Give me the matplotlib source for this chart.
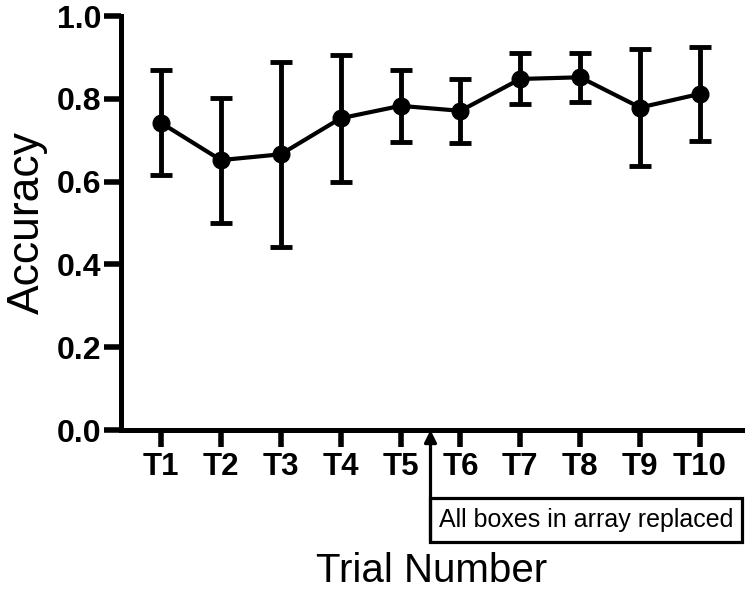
import matplotlib.pyplot as plt
from matplotlib.patches import Rectangle

trials = ["T1", "T2", "T3", "T4", "T5", "T6", "T7", "T8", "T9", "T10"]
accuracy = [0.742, 0.652, 0.666, 0.753, 0.783, 0.771, 0.848, 0.852, 0.779, 0.812]
err_upper = [0.870, 0.801, 0.890, 0.907, 0.870, 0.847, 0.910, 0.911, 0.920, 0.924]
err_lower = [0.616, 0.501, 0.441, 0.600, 0.696, 0.693, 0.787, 0.792, 0.638, 0.699]
change_at = 4.5
change_label = "All boxes in array replaced"

plt.rcParams['font.family'] = ['Liberation Sans', 'DejaVu Sans']

x = list(range(len(trials)))
yerr = [[a - lo for a, lo in zip(accuracy, err_lower)],
        [hi - a for a, hi in zip(accuracy, err_upper)]]

fig = plt.figure(figsize=(7.46, 6), dpi=100)
ax = fig.add_axes([0.1618, 0.2833, 0.8324, 0.69])

ax.errorbar(x, accuracy, yerr=yerr, color='black', marker='o', markersize=12,
            lw=3, elinewidth=3.5, capsize=8, capthick=3.5, zorder=3)

ax.set_xlim(-0.673, 9.696)
ax.set_ylim(0, 1.0)
ax.set_xticks(x)
ax.set_xticklabels(trials, fontsize=22.5, fontweight='bold')
ax.set_yticks([0.0, 0.2, 0.4, 0.6, 0.8, 1.0])
ax.set_yticklabels(["0.0", "0.2", "0.4", "0.6", "0.8", "1.0"], fontsize=23, fontweight='bold')

for side in ['top', 'right']:
    ax.spines[side].set_visible(False)
for side in ['left', 'bottom']:
    ax.spines[side].set_linewidth(3.6)
ax.tick_params(axis='both', direction='out', length=12, width=4)
ax.tick_params(axis='x', pad=4)
ax.tick_params(axis='y', pad=2)

ax.set_ylabel("Accuracy", fontsize=32, labelpad=6)
ax.set_xlabel("Trial Number", fontsize=29, labelpad=50)

# annotation box + arrow below the axis
trans = ax.get_xaxis_transform()
box_top, box_bot = -0.164, -0.270
rect = Rectangle((change_at, box_bot), ax.get_xlim()[1] - change_at, box_top - box_bot,
                 transform=trans, fill=False, lw=2.3, edgecolor='black', clip_on=False)
ax.add_patch(rect)
ax.text((change_at + ax.get_xlim()[1]) / 2, (box_top + box_bot) / 2, change_label,
        transform=trans, fontsize=18, ha='center', va='center')
ax.annotate("", xy=(change_at, 0), xycoords=trans, xytext=(change_at, box_bot),
            textcoords=trans,
            arrowprops=dict(arrowstyle='-|>', lw=2.3, color='black', mutation_scale=18,
                            shrinkA=0, shrinkB=0))

fig.savefig("out.png", dpi=100)
